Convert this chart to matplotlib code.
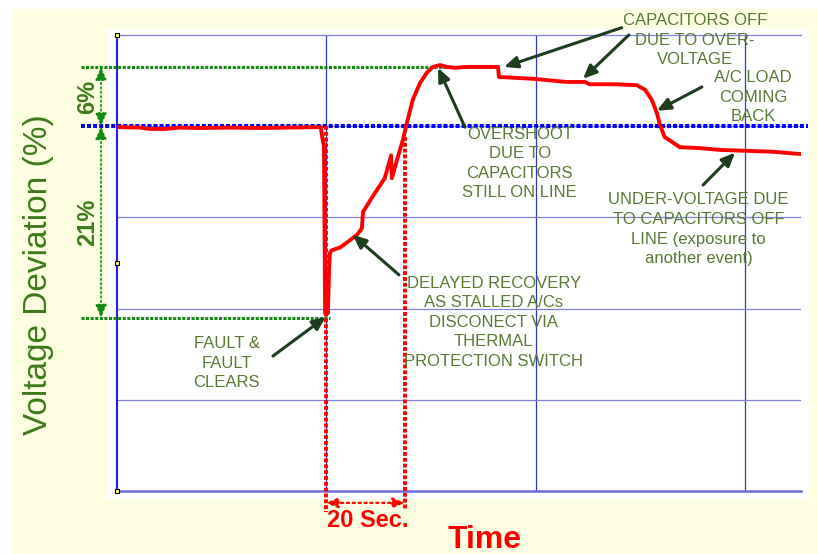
import matplotlib.pyplot as plt
from matplotlib.patches import Rectangle

plt.rcParams['font.family'] = ['Liberation Sans', 'DejaVu Sans']

# time (s) and voltage deviation (%)
t = [0, 5.8, 8.4, 12.2, 15.9, 21.0, 28.6, 36.2, 43.8, 51.6,
     51.9, 52.2, 52.4, 52.7, 52.9, 53.2, 53.4, 53.7, 53.9, 54.4,
     56.5, 59.0, 60.8, 62.0, 62.3, 64.6, 67.8, 69.4, 69.6, 70.9,
     72.4, 73.4, 74.9, 76.7, 78.5, 80.0, 81.8, 83.5, 85.6, 88.6,
     93.7, 96.5, 96.7, 105.3, 113.9, 118.5, 119.7, 125.6, 131.6, 133.7,
     135.4, 136.7, 137.5, 138.7, 140.8, 142.5, 147.6, 152.7, 159.5, 166.1,
     172.9]
v = [-0.1, -0.15, -0.3, -0.3, -0.15, -0.2, -0.15, -0.2, -0.15, -0.1,
     -1.0, -1.8, -2.1, -20.5, -20.5, -18.0, -20.5, -15.8, -13.9, -13.6,
     -13.3, -12.5, -11.9, -11.2, -9.4, -7.8, -5.7, -3.2, -5.7, -3.7,
     -1.5, 0.35, 2.9, 4.7, 5.9, 6.5, 6.7, 6.5, 6.4, 6.5,
     6.5, 6.5, 5.4, 5.2, 4.85, 4.85, 4.6, 4.6, 4.5, 4.0,
     2.9, 1.45, 0.13, -1.2, -1.8, -2.3, -2.4, -2.6, -2.7, -2.8,
     -3.05]

grid_x = [53, 106, 159]
grid_y = [-30, -20, -10]
nominal = 0
overshoot = 6.5
sag = -21
t_fault = 52.9
t_recover = 72.9

green = '#3d7a1a'
note_c = '#587a35'
arrow_c = '#1e3c1e'

fig = plt.figure(figsize=(8.18, 5.54), dpi=100)
fig.patch.set_facecolor('white')
fig.patches.append(Rectangle((12 / 818, 0), 806 / 818, 545 / 554,
                             transform=fig.transFigure, color='#fefee2', zorder=-2))
fig.patches.append(Rectangle((107 / 818, 56 / 554), 701 / 818, 469 / 554,
                             transform=fig.transFigure, color='white', zorder=-1))

ax = fig.add_axes([117 / 818, 63 / 554, 684 / 818, 456 / 554])
ax.set_facecolor('none')
ax.set_xlim(0, 173.2)
ax.set_ylim(-40, 10)
ax.set_xticks([])
ax.set_yticks([])
ax.spines['right'].set_visible(False)
ax.spines['left'].set_color('#2222dd')
ax.spines['left'].set_linewidth(1.5)
ax.spines['bottom'].set_color('#6b6bdd')
ax.spines['bottom'].set_linewidth(1.8)
ax.spines['top'].set_color('#8080e6')
ax.spines['top'].set_linewidth(0.9)

for gx in grid_x:
    ax.axvline(gx, color='#3535cc', lw=0.9, zorder=1)
ax.axhline(nominal, color='#8080e6', lw=0.9, zorder=1)
for gy in grid_y:
    ax.axhline(gy, color='#8080e6', lw=0.9, zorder=1)

# reference lines
ax.plot([-9.1, 175], [nominal, nominal], color='#0000ff', lw=2.9,
        dashes=(1, 0.5), clip_on=False, zorder=3)
ax.plot([-9.1, 96.5], [overshoot, overshoot], color='#138a13', lw=2.2,
        dashes=(1, 0.5), clip_on=False, zorder=3)
ax.plot([-9.1, 53.9], [sag, sag], color='#138a13', lw=2.2,
        dashes=(1, 0.5), clip_on=False, zorder=3)

# red trace
ax.plot(t, v, color='#ff0000', lw=2.8, solid_joinstyle='round', zorder=4)

# 20 s markers
ax.plot([t_fault, t_fault], [0, -42.3], color='#ff0000', lw=2.8,
        dashes=(1, 0.5), clip_on=False, zorder=5)
ax.plot([t_recover, t_recover], [-1.2, -42.1], color='#ff0000', lw=2.8,
        dashes=(1, 0.5), clip_on=False, zorder=5)
ax.annotate('', xy=(t_fault, -41.3), xytext=(t_recover, -41.3), annotation_clip=False,
            arrowprops=dict(arrowstyle='<|-|>,head_length=0.7,head_width=0.3',
                            color='#ff0000', lw=1.6, ls=':', shrinkA=0, shrinkB=0))
ax.text(t_fault + 0.2, -42.0, '20 Sec.', color='#ff0000', fontsize=17,
        fontweight='bold', ha='left', va='top', clip_on=False)

# deviation brackets
for y0, y1, lab in [(nominal, overshoot, '6%'), (nominal, sag, '21%')]:
    ax.annotate('', xy=(-4.05, y1), xytext=(-4.05, y0), annotation_clip=False,
                arrowprops=dict(arrowstyle='<|-|>,head_length=0.8,head_width=0.35',
                                color='#138a13', lw=1.2, ls=':', shrinkA=0, shrinkB=0))
    ax.text(-4.05 - 0.4, (y0 + y1) / 2, lab, color=green, fontsize=17,
            fontweight='bold', rotation=90, ha='right', va='center', clip_on=False)

# corner handles
ax.plot([0, 0, 0], [10, -15, -40], ls='none', marker='s', ms=3,
        mfc='#ffff66', mec='black', mew=0.8, clip_on=False, zorder=6)

notes = [
    ('CAPACITORS OFF\nDUE TO OVER-\nVOLTAGE', 146.3, 9.45),
    ('A/C LOAD\nCOMING\nBACK', 161.0, 3.2),
    ('OVERSHOOT\nDUE TO\nCAPACITORS\nSTILL ON LINE', 102.0, -4.1),
    ('UNDER-VOLTAGE DUE\nTO CAPACITORS OFF\nLINE (exposure to\nanother event)', 147.3, -11.3),
    ('DELAYED RECOVERY\nAS STALLED A/Cs\nDISCONECT VIA\nTHERMAL\nPROTECTION SWITCH', 95.4, -21.5),
    ('FAULT &\nFAULT\nCLEARS', 27.8, -26.0),
]
for txt, x, y in notes:
    ax.text(x, y, txt, color=note_c, fontsize=12, ha='center', va='center',
            linespacing=1.38, clip_on=False, zorder=7)

arrows = [
    ((39.5, -25.2), (52.9, -20.9)),
    ((71.4, -16.3), (59.7, -11.9)),
    ((88.1, -0.1), (81.3, 6.4)),
    ((127.8, 10.8), (98.0, 6.5)),
    ((129.6, 10.0), (118.0, 5.2)),
    ((148.1, 4.3), (136.7, 1.7)),
    ((148.4, -6.45), (156.5, -2.9)),
]
for tail, head in arrows:
    ax.annotate('', xy=head, xytext=tail, annotation_clip=False,
                arrowprops=dict(arrowstyle='-|>,head_length=0.8,head_width=0.35',
                                color=arrow_c, lw=2.2, shrinkA=0, shrinkB=0), zorder=8)

fig.text(39 / 818, 1 - 275 / 554, 'Voltage Deviation (%)', color=green, fontsize=24,
         rotation=90, ha='center', va='center')
fig.text(485 / 818, 1 - 540 / 554, 'Time', color='#ff0000', fontsize=23,
         fontweight='bold', ha='center', va='center')

fig.savefig('out.png', dpi=100, facecolor=fig.get_facecolor())
